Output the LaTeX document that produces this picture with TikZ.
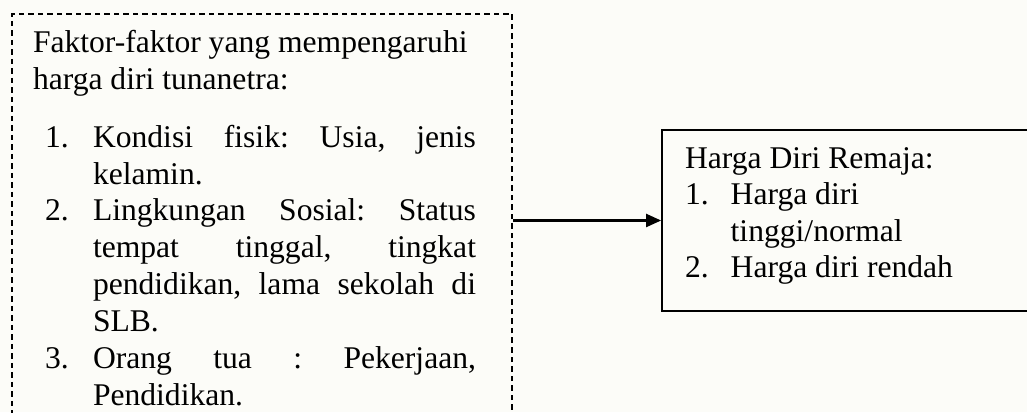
\documentclass[tikz,border=0pt]{standalone}
\usepackage{fontspec}
\setmainfont{Liberation Serif}
\usetikzlibrary{arrows.meta}
\font\bigserif="Liberation Serif" at 31.6pt
\newcommand{\bodyfont}{\bigserif\frenchspacing\baselineskip=36.7pt\relax}
\definecolor{paper}{RGB}{252,252,248}
\tikzset{
  txt/.style={anchor=base west, inner sep=0pt, outer sep=0pt, font=\bodyfont},
  dashbox/.style={draw, line width=1.8pt, dash pattern=on 5.5pt off 4pt, minimum width=500pt, minimum height=418pt, inner sep=0pt},
  solidbox/.style={draw, line width=1.8pt, minimum width=378pt, minimum height=181pt, inner sep=0pt},
  conn/.style={line width=2.2pt, -{Triangle[length=15pt,width=13pt]}}
}
\newcommand{\jline}[2]{\makebox[#1][s]{#2}}
\begin{document}
\begin{tikzpicture}[x=1pt,y=1pt]
\useasboundingbox[fill=paper] (0,0) rectangle (1027,412);
% boxes
\node[dashbox] (faktor) at (262,189) {};
\node[solidbox] (harga) at (851,191.5) {};
% left texts
\node[txt] (title) at (33,359.3) {\parbox[t]{470pt}{\bodyfont Faktor-faktor yang mempengaruhi\\harga diri tunanetra:}};
\node[txt] (n1) at (45,264) {1.};
\node[txt] (i1) at (93,264) {\parbox[t]{383pt}{\bodyfont\jline{383pt}{Kondisi fisik: Usia, jenis}\\kelamin.}};
\node[txt] (n2) at (45,191) {2.};
\node[txt] (i2) at (93,191) {\parbox[t]{383pt}{\bodyfont\jline{383pt}{Lingkungan Sosial: Status}\\\jline{383pt}{tempat tinggal, tingkat}\\\jline{383pt}{pendidikan, lama sekolah di}\\SLB.}};
\node[txt] (n3) at (45,43.3) {3.};
\node[txt] (i3) at (93,43.3) {\parbox[t]{383pt}{\bodyfont\jline{383pt}{Orang tua : Pekerjaan,}\\Pendidikan.}};
% right texts
\node[txt] (rtitle) at (685,243) {Harga Diri Remaja:};
\node[txt] (r1n) at (685,207) {1.};
\node[txt] (r1) at (730.7,207) {\parbox[t]{280pt}{\bodyfont Harga diri\\tinggi/normal}};
\node[txt] (r2n) at (685,134) {2.};
\node[txt] (r2) at (730.7,134) {Harga diri rendah};
% connector
\draw[conn] (faktor.east |- harga.west) -- (harga.west);
\end{tikzpicture}
\end{document}
